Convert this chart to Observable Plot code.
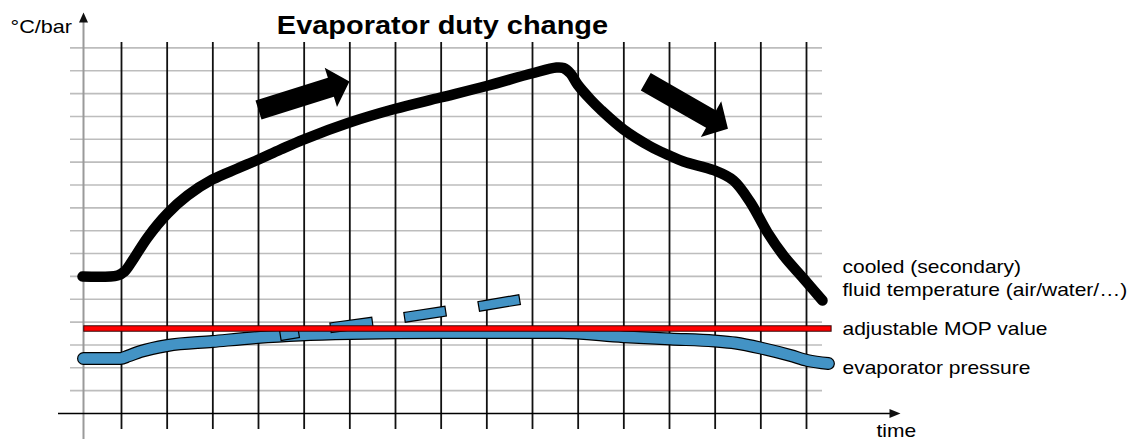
<!DOCTYPE html>
<html><head><meta charset="utf-8">
<script src="https://cdn.jsdelivr.net/npm/d3@7"></script>
<script src="https://cdn.jsdelivr.net/npm/@observablehq/plot@0.6"></script>
<style>body{margin:0;background:#fff;} #chart svg{display:block}</style>
</head><body><div id="chart"></div>
<script>
// ---- data (time units = grid columns, value units = grid rows) ----
const gridLevels = d3.range(1, 17);
const timeTicks = d3.range(1, 17);

const fluidTime = [0.146,0.912,1.066,1.241,1.570,2.007,2.445,2.993,3.540,3.978,4.482,4.985,5.992,6.978,7.985,8.992,9.978,10.525,10.678,10.832,10.986,11.270,11.489,11.993,12.584,12.999,13.306,13.985,14.401,14.773,15.146,15.496,15.934,16.350];
const fluidTemp = [5.996,6.039,6.214,6.696,7.702,8.753,9.540,10.241,10.722,11.094,11.554,11.991,12.735,13.326,13.829,14.333,14.880,15.142,15.120,14.880,14.398,13.742,13.304,12.429,11.685,11.291,11.028,10.635,10.197,9.234,7.921,6.915,5.908,4.945];

const evapTime = [0.168,0.978,1.15,1.416,2.007,2.993,3.978,4.92,6.014,7.985,9.955,10.61,11.99,13.02,13.98,14.44,15.04,15.65,16.02,16.48];
const evapPressure = [2.407,2.407,2.52,2.713,2.976,3.151,3.326,3.435,3.501,3.545,3.545,3.545,3.361,3.260,3.173,3.085,2.845,2.538,2.319,2.188];

const mopValue = 3.72;
const mopStart = 0.245, mopEnd = 16.49;

// projected (unlimited) evaporator pressure, drawn as dashes
const projX1 = [4.585, 5.684, 7.304, 8.928];
const projY1 = [3.44, 3.78, 4.24, 4.72];
const projX2 = [4.774, 6.388, 7.992, 9.612];
const projY2 = [3.50, 3.97, 4.45, 4.95];

// duty-change arrows: tail and tip
const arrowTailX = [4.0, 12.48], arrowTailY = [13.28, 14.52];
const arrowTipX = [5.992, 14.28], arrowTipY = [14.53, 12.46];

const titleText = "Evaporator duty change";
const yUnitLabel = "°C/bar";
const xLabel = "time";
const seriesLabels = ["cooled (secondary)", "fluid temperature (air/water/…)", "adjustable MOP value", "evaporator pressure"];

// ---- scales ----
const X_DOMAIN = [0, 16], X_RANGE = [75.33, 806];
const Y_DOMAIN = [0, 16], Y_RANGE = [413, 47.4];
const xs = d3.scaleLinear(X_DOMAIN, X_RANGE);
const ys = d3.scaleLinear(Y_DOMAIN, Y_RANGE);
const px2x = p => xs.invert(p), px2y = p => ys.invert(p);

function arrowPolygon(tail, tip, shaft, headLen, headW, id) {
  const T = [xs(tail[0]), ys(tail[1])], P = [xs(tip[0]), ys(tip[1])];
  const dx = P[0]-T[0], dy = P[1]-T[1], L = Math.hypot(dx, dy);
  const u = [dx/L, dy/L], n = [-u[1], u[0]];
  const B = [P[0]-u[0]*headLen, P[1]-u[1]*headLen];
  return [[T,shaft/2],[B,shaft/2],[B,headW/2],[P,0],[B,-headW/2],[B,-shaft/2],[T,-shaft/2]]
    .map(([p,k]) => ({x: xs.invert(p[0]+n[0]*k), y: ys.invert(p[1]+n[1]*k), id}));
}

const fluid = fluidTime.map((t,i) => ({t, v: fluidTemp[i]}));
const evap = evapTime.map((t,i) => ({t, v: evapPressure[i]}));
const proj = projX1.map((x,i) => ({x1: x, y1: projY1[i], x2: projX2[i], y2: projY2[i]}));
const bigArrows = arrowTailX.flatMap((x,i) => arrowPolygon([x, arrowTailY[i]], [arrowTipX[i], arrowTipY[i]], 20, 19.5, 41, "a"+i));
const yAx = px2x(83);
const axisHeads = [
  ...arrowPolygon([yAx, px2y(30)], [yAx, px2y(12)], 0, 10, 9, "ya"),
  ...arrowPolygon([px2x(870), 0], [px2x(900), 0], 0, 11, 9, "xa")
];

const F = "Liberation Sans, Arial, Helvetica, sans-serif";
const lx = px2x(842);

const svg = Plot.plot({
  width: 1135, height: 439,
  margin: 0,
  style: {fontFamily: F, background: "white", color: "black", overflow: "visible"},
  x: {domain: X_DOMAIN, range: X_RANGE, axis: null},
  y: {domain: Y_DOMAIN, range: Y_RANGE, axis: null},
  marks: [
    Plot.ruleY(gridLevels, {y: d => d, x1: px2x(70), x2: px2x(822), stroke: "#bdbdbd", strokeWidth: 1.6}),
    Plot.ruleX(timeTicks, {x: d => d, y1: px2y(429), y2: px2y(42), stroke: "#111", strokeWidth: 1.8}),
    Plot.ruleX([yAx], {x: d => d, y1: px2y(440), y2: px2y(20), stroke: "#9a9a9a", strokeWidth: 2}),
    Plot.ruleY([0], {y: d => d, x1: px2x(58), x2: px2x(890), stroke: "#000", strokeWidth: 1.5}),
    Plot.line(axisHeads, {x: "x", y: "y", z: "id", fill: "#111", stroke: "none", curve: "linear"}),
    Plot.line(fluid, {x: "t", y: "v", stroke: "#000", strokeWidth: 10.5, curve: "catmull-rom", strokeLinecap: "round", strokeLinejoin: "round"}),
    Plot.line(evap, {x: "t", y: "v", stroke: "#000", strokeWidth: 13, curve: "monotone-x", strokeLinecap: "round"}),
    Plot.line(evap, {x: "t", y: "v", stroke: "#4393c5", strokeWidth: 10.6, curve: "monotone-x", strokeLinecap: "round"}),
    Plot.link(proj, {x1: "x1", y1: "y1", x2: "x2", y2: "y2", stroke: "#000", strokeWidth: 11, strokeLinecap: "square"}),
    Plot.link(proj, {x1: "x1", y1: "y1", x2: "x2", y2: "y2", stroke: "#4393c5", strokeWidth: 8.6, strokeLinecap: "square"}),
    Plot.ruleY([mopValue], {y: d => d, x1: mopStart, x2: mopEnd, stroke: "#3a0000", strokeWidth: 6.5, strokeLinecap: "square"}),
    Plot.ruleY([mopValue], {y: d => d, x1: mopStart, x2: mopEnd, stroke: "#ff0000", strokeWidth: 4.5, strokeLinecap: "square"}),
    Plot.line(bigArrows, {x: "x", y: "y", z: "id", fill: "#000", stroke: "none", curve: "linear"}),
    Plot.text([titleText], {x: px2x(442), y: px2y(33.3), text: d => d, fontSize: 25.5, fontWeight: "bold", textAnchor: "middle", lineAnchor: "bottom", fill: "#000"}),
    Plot.text([yUnitLabel], {x: px2x(10), y: px2y(32), text: d => d, fontSize: 19, textAnchor: "start", lineAnchor: "bottom", fill: "#000"}),
    Plot.text([xLabel], {x: px2x(876), y: px2y(436), text: d => d, fontSize: 18.5, textAnchor: "start", lineAnchor: "bottom", fill: "#000"}),
    Plot.text(seriesLabels, {x: lx, y: (d,i) => px2y([272, 295.5, 334.5, 373][i]), text: d => d, fontSize: 18.5, textAnchor: "start", lineAnchor: "bottom", fill: "#000"})
  ]
});
document.getElementById("chart").append(svg);
svg.querySelectorAll("text").forEach(t => {
  const L = t.getComputedTextLength();
  if (L > 0) { t.setAttribute("textLength", (L*1.135).toFixed(1)); t.setAttribute("lengthAdjust", "spacingAndGlyphs"); }
});
</script>
</body></html>
